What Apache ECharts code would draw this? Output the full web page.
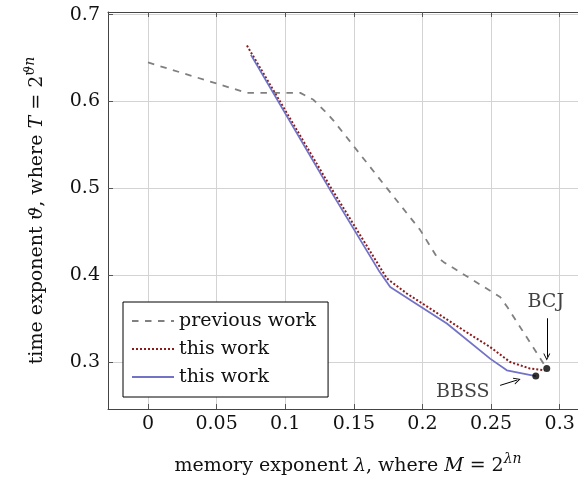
<!DOCTYPE html>
<html>
<head>
<meta charset="utf-8">
<script src="https://cdn.jsdelivr.net/npm/echarts@6/dist/echarts.min.js"></script>
<style>
  html, body { margin: 0; padding: 0; background: #fff; }
  #biao1 { width: 578px; height: 478px; }
</style>
</head>
<body>
<div id="biao1"></div>
<script>
// previous work (dashed grey)
var prevX = [0, 0.072, 0.111, 0.1206, 0.1304, 0.1352, 0.1741, 0.1983, 0.2105, 0.2153, 0.2566, 0.2622, 0.2906];
var prevY = [0.645, 0.61, 0.61, 0.602, 0.5865, 0.578, 0.5002, 0.4522, 0.4211, 0.4153, 0.375, 0.3625, 0.2924];
// this work (dotted dark red)
var dotX = [0.0721, 0.1328, 0.1741, 0.1886, 0.2056, 0.2299, 0.2493, 0.2639, 0.2785, 0.289];
var dotY = [0.6645, 0.502, 0.3962, 0.3789, 0.3616, 0.3366, 0.3173, 0.3, 0.2924, 0.2905];
// this work (solid blue)
var solidX = [0.075, 0.1328, 0.168, 0.1765, 0.1934, 0.2178, 0.2493, 0.2615, 0.2826];
var solidY = [0.6537, 0.498, 0.4058, 0.3865, 0.3692, 0.3443, 0.3039, 0.2904, 0.2838];
// labelled results
var bcj = [0.2906, 0.2924];
var bbss = [0.2826, 0.2838];

var xTicks = [0, 0.05, 0.1, 0.15, 0.2, 0.25, 0.3];
var yTicks = [0.3, 0.4, 0.5, 0.6, 0.7];

function pairs(xs, ys) {
  var out = [];
  for (var i = 0; i < xs.length; i++) out.push([xs[i], ys[i]]);
  return out;
}

var FONT = "'DejaVu Serif', 'Liberation Serif', serif";
var FS = 19;
var TXT = '#111';

function nameRich() {
  return {
    t: { fontFamily: FONT, fontSize: FS, color: TXT, lineHeight: 24, verticalAlign: 'bottom' },
    i: { fontFamily: FONT, fontSize: FS, color: TXT, lineHeight: 24, verticalAlign: 'bottom', fontStyle: 'italic' },
    s: { fontFamily: FONT, fontSize: 14, color: TXT, lineHeight: 14, verticalAlign: 'top', fontStyle: 'italic' }
  };
}

var dom = document.getElementById('biao1');
var myChart = echarts.init(dom, null, { renderer: 'canvas' });

var xMin = -0.02915, xMax = 0.32065;
var yMin = 0.2459, yMax = 0.7031;

var arrowHead = 'path://M0,10 L5,0 L10,10 L8.6,10 L5,2.8 L1.4,10 Z';

var option = {
  animation: false,
  backgroundColor: '#fff',
  grid: { left: 108, top: 12, width: 480, height: 397, show: false, containLabel: false, outerBoundsMode: 'none' },
  legend: {
    orient: 'vertical',
    left: 123,
    top: 302,
    padding: [8, 12, 9, 8],
    itemGap: 6,
    itemWidth: 42,
    itemHeight: 14,
    borderColor: '#000',
    borderWidth: 1,
    borderRadius: 0,
    backgroundColor: '#fff',
    itemStyle: { opacity: 0 },
    data: ['previous work', 'this work #1', 'this work #2'],
    formatter: function (name) { return name.replace(/ #\d$/, ''); },
    textStyle: { fontFamily: FONT, fontSize: FS, color: TXT, lineHeight: 22 }
  },
  xAxis: [{
    type: 'value',
    min: xMin,
    max: xMax,
    position: 'bottom',
    name: '{t|memory exponent }{i|λ}{t|, where }{i|M}{t| = 2}{s|λn}',
    nameLocation: 'middle',
    nameGap: 43,
    nameTextStyle: { rich: nameRich() },
    axisLine: { show: true, onZero: false, lineStyle: { color: '#444', width: 1 } },
    axisTick: { show: true, inside: true, length: 5, customValues: xTicks, lineStyle: { color: '#555' } },
    axisLabel: {
      customValues: xTicks, margin: 6,
      fontFamily: FONT, fontSize: FS, color: TXT,
      formatter: function (v) { return String(Math.round(v * 100) / 100); }
    },
    splitLine: { show: true, lineStyle: { color: '#d3d3d3', width: 1 } }
  }, {
    type: 'value',
    min: xMin,
    max: xMax,
    position: 'top',
    axisLine: { show: true, onZero: false, lineStyle: { color: '#444', width: 1 } },
    axisTick: { show: true, inside: true, length: 5, customValues: xTicks, lineStyle: { color: '#555' } },
    axisLabel: { show: false },
    splitLine: { show: false }
  }],
  yAxis: [{
    type: 'value',
    min: yMin,
    max: yMax,
    position: 'left',
    name: '{t|time exponent }{i|ϑ}{t|, where }{i|T}{t| = 2}{s|ϑn}',
    nameLocation: 'middle',
    nameGap: 61,
    nameTextStyle: { rich: nameRich() },
    axisLine: { show: true, onZero: false, lineStyle: { color: '#444', width: 1 } },
    axisTick: { show: true, inside: true, length: 5, customValues: yTicks, lineStyle: { color: '#555' } },
    axisLabel: {
      customValues: yTicks, margin: 8,
      fontFamily: FONT, fontSize: FS, color: TXT,
      formatter: function (v) { return String(Math.round(v * 10) / 10); }
    },
    splitLine: { show: true, lineStyle: { color: '#d3d3d3', width: 1 } }
  }, {
    type: 'value',
    min: yMin,
    max: yMax,
    position: 'right',
    axisLine: { show: true, onZero: false, lineStyle: { color: '#444', width: 1 } },
    axisTick: { show: true, inside: true, length: 5, customValues: yTicks, lineStyle: { color: '#555' } },
    axisLabel: { show: false },
    splitLine: { show: false }
  }],
  series: [{
    name: 'previous work',
    type: 'line',
    data: pairs(prevX, prevY),
    showSymbol: false,
    symbol: 'none',
    color: '#808080',
    lineStyle: { color: '#808080', width: 1.8, type: [6.5, 6.5] }
  }, {
    name: 'this work #1',
    type: 'line',
    data: pairs(dotX, dotY),
    showSymbol: false,
    symbol: 'none',
    color: '#8b1a1a',
    lineStyle: { color: '#8b1a1a', width: 2, type: [2, 2], cap: 'butt' }
  }, {
    name: 'this work #2',
    type: 'line',
    data: pairs(solidX, solidY),
    showSymbol: false,
    symbol: 'none',
    color: '#7272c6',
    lineStyle: { color: '#7272c6', width: 1.8, type: 'solid' }
  }, {
    name: 'results',
    type: 'scatter',
    symbol: 'circle',
    symbolSize: 7,
    itemStyle: { color: '#000' },
    z: 5,
    data: [
      { value: bcj, name: 'BCJ', label: { show: true, position: 'inside', offset: [-1, -67] } },
      { value: bbss, name: 'BBSS', label: { show: true, position: 'inside', offset: [-73, 16] } }
    ],
    label: {
      formatter: '{b}',
      fontFamily: FONT, fontSize: FS, color: TXT
    },
    markLine: {
      silent: true,
      symbol: ['none', arrowHead],
      symbolSize: [7, 7],
      label: { show: false },
      lineStyle: { color: '#000', width: 1, type: 'solid' },
      emphasis: { disabled: true },
      data: [
        [{ coord: [bcj[0], bcj[1] + 0.058] }, { coord: [bcj[0], bcj[1] + 0.0135] }],
        [{ coord: [bbss[0] - 0.026, bbss[1] - 0.0107] }, { coord: [bbss[0] - 0.0135, bbss[1] - 0.0045] }]
      ]
    }
  }]
};

if (option && typeof option === 'object') {
  myChart.setOption(option);
}

window.addEventListener('resize', myChart.resize);
</script>
</body>
</html>
